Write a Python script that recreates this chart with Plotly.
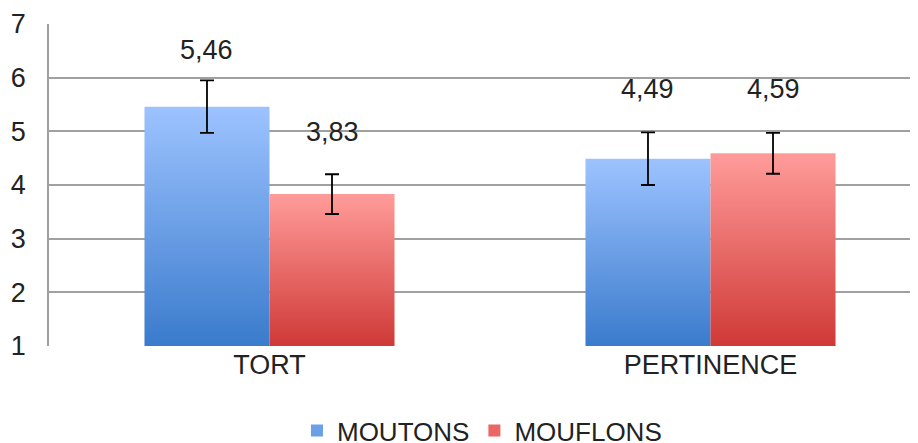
import plotly.graph_objects as go

categories = ["TORT", "PERTINENCE"]
series_names = ["MOUTONS", "MOUFLONS"]
moutons = [5.46, 4.49]
mouflons = [3.83, 4.59]
moutons_err = [0.49, 0.49]
mouflons_err = [0.37, 0.38]
value_labels_moutons = ["5,46", "4,49"]
value_labels_mouflons = ["3,83", "4,59"]
y_ticks = [1, 2, 3, 4, 5, 6, 7]

values = [moutons, mouflons]
errors = [moutons_err, mouflons_err]
labels = [value_labels_moutons, value_labels_mouflons]
# gradient colours (bottom, top)
gradients = [("#3a7bcc", "#9dc3ff"), ("#cf3936", "#ff9c9a")]
legend_colors = ["#6b9fe6", "#ea6764"]
label_shift = [[57, 70], [62, 64]]

base = 1
bar_w = 0.2835
offsets = [-bar_w / 2, bar_w / 2]
FONT = "Liberation Sans, Arial, sans-serif"
FS = 27

fig = go.Figure()

for s in range(2):
    for i, cat in enumerate(categories):
        xc = i + offsets[s]
        x0, x1 = xc - bar_w / 2, xc + bar_w / 2
        v = values[s][i]
        fig.add_trace(go.Scatter(
            x=[x0, x1, x1, x0, x0],
            y=[base, base, v, v, base],
            mode="lines",
            fill="toself",
            fillgradient=dict(type="vertical",
                              colorscale=[[0, gradients[s][0]], [1, gradients[s][1]]]),
            line=dict(width=0, color=legend_colors[s]),
            name=series_names[s],
            legendgroup=series_names[s],
            showlegend=False,
            hoverinfo="skip",
        ))
    fig.add_trace(go.Scatter(
        x=[i + offsets[s] for i in range(len(categories))],
        y=values[s],
        mode="markers",
        marker=dict(size=1, opacity=0),
        error_y=dict(type="data", array=errors[s], color="black", thickness=1.8, width=7),
        showlegend=False,
        hoverinfo="skip",
    ))
    fig.add_trace(go.Scatter(
        x=[None], y=[None],
        mode="markers",
        marker=dict(symbol="square", size=12, color=legend_colors[s]),
        name=series_names[s],
        legendgroup=series_names[s],
        showlegend=True,
    ))
    for i in range(len(categories)):
        fig.add_annotation(
            x=i + offsets[s], y=values[s][i],
            text=labels[s][i],
            showarrow=False,
            yshift=label_shift[s][i],
            font=dict(size=FS, color="#222222", family=FONT),
        )

fig.update_layout(
    width=918, height=443,
    margin=dict(l=41, r=0, t=16, b=105, autoexpand=False),
    plot_bgcolor="white",
    paper_bgcolor="white",
    font=dict(family=FONT, size=FS, color="#222222"),
    showlegend=True,
    legend=dict(orientation="h", x=0.4937, xanchor="center", xref="paper",
                y=-0.19, yanchor="top", font=dict(size=26),
                itemwidth=30, tracegroupgap=0, itemsizing="constant"),
)
fig.update_xaxes(
    range=[-0.5, -0.5 + 877 / 441],
    tickvals=list(range(len(categories))),
    ticktext=categories,
    showgrid=False,
    zeroline=False,
    showline=False,
    ticks="",
    tickfont=dict(size=FS),
    fixedrange=True,
)
fig.update_yaxes(
    range=[1, 7],
    tickvals=y_ticks,
    showgrid=True,
    gridcolor="#a0a0a0",
    gridwidth=1.6,
    zeroline=False,
    showline=True,
    linecolor="#a0a0a0",
    linewidth=1.6,
    ticks="",
    ticklabelstandoff=16,
    tickfont=dict(size=FS),
    fixedrange=True,
)

fig.write_html("out.html")
